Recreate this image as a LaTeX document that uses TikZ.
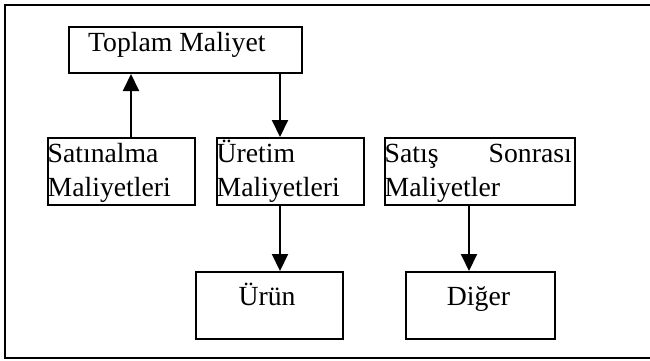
\documentclass[tikz,border=0pt]{standalone}
\usepackage{fontspec}
\setmainfont{Liberation Serif}
\usetikzlibrary{arrows.meta}
\begin{document}
\begin{tikzpicture}[x=1pt,y=-1pt,
  box/.style={draw,line width=2pt,inner sep=0pt,anchor=north west},
  txt/.style={inner sep=0pt,font=\fontsize{27.7}{34}\selectfont},
  arr/.style={line width=2pt,-{Triangle[length=17pt,width=16pt]}}]
\useasboundingbox (0,0) rectangle (650,360);
\draw[line width=2pt] (4.5,5) rectangle (670,358);
% boxes
\node[box,minimum width=233pt,minimum height=46pt] (top) at (68,26) {};
\node[box,minimum width=147pt,minimum height=67pt] (sat) at (47,137) {};
\node[box,minimum width=147pt,minimum height=67pt] (ure) at (216,137) {};
\node[box,minimum width=190pt,minimum height=67pt] (sss) at (384,137) {};
\node[box,minimum width=147pt,minimum height=67pt] (urun) at (195,271) {};
\node[box,minimum width=149pt,minimum height=67pt] (dig) at (405,271) {};
% texts
\node[txt,anchor=base west] (ttop) at (88,51) {Toplam Maliyet};
\node[txt,anchor=base west] (tsat1) at (47.5,162) {Satınalma};
\node[txt,anchor=base west] (tsat2) at (47.5,196) {Maliyetleri};
\node[txt,anchor=base west] (ture1) at (216.5,162) {Üretim};
\node[txt,anchor=base west] (ture2) at (216.5,196) {Maliyetleri};
\node[txt,anchor=base west] (tsss1) at (384.5,162) {Satış};
\node[txt,anchor=base east] (tsss2) at (572,162) {Sonrası};
\node[txt,anchor=base west] (tsss3) at (384.5,196) {Maliyetler};
\node[txt,anchor=base] (turun) at (267,305) {Ürün};
\node[txt,anchor=base] (tdig) at (478.5,305) {Diğer};
% arrow columns
\coordinate (c1) at (131,0);
\coordinate (c2) at (280,0);
\coordinate (c3) at (469,0);
\draw[arr] (sat.north -| c1) -- (top.south -| c1);
\draw[arr] (top.south -| c2) -- (ure.north -| c2);
\draw[arr] (ure.south -| c2) -- (urun.north -| c2);
\draw[arr] (sss.south -| c3) -- (dig.north -| c3);
\end{tikzpicture}
\end{document}
